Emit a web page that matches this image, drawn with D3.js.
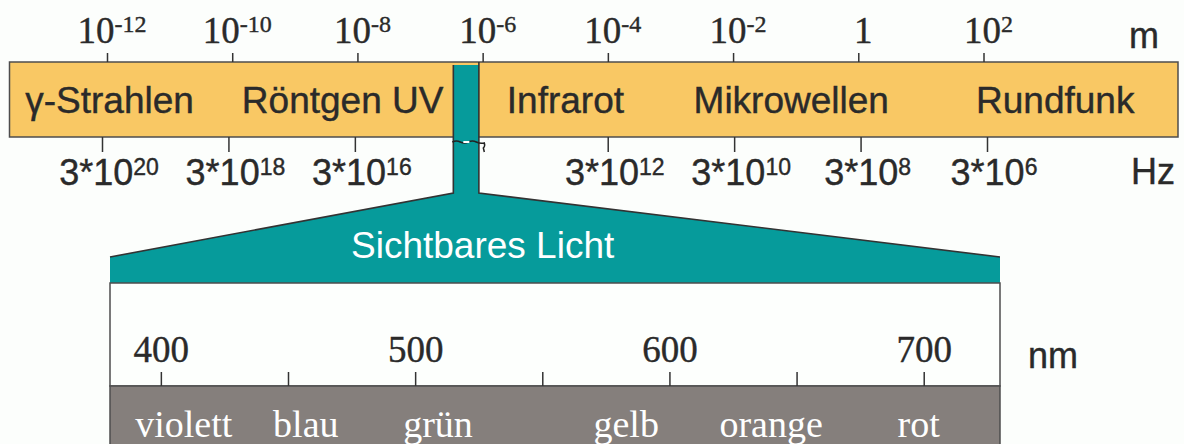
<!DOCTYPE html>
<html>
<head>
<meta charset="utf-8">
<script src="https://cdn.jsdelivr.net/npm/d3@7"></script>
<style>
  html, body { margin: 0; padding: 0; background: #fcfefc; }
  svg { display: block; }
  .sans { font-family: "Liberation Sans", Arial, sans-serif; }
  .serif { font-family: "Liberation Serif", "Times New Roman", serif; }
  .dark { stroke: #2a2a2a; stroke-width: 0.4px; }
</style>
</head>
<body>
<div id="chart"></div>
<script>
// wavelength axis (m), top of band
const waveTicks = [1e-12, 1e-10, 1e-8, 1e-6, 1e-4, 1e-2, 1, 1e2];
const waveExponents = ["-12", "-10", "-8", "-6", "-4", "-2", "", "2"];

// frequency axis (Hz), bottom of band
const freqTicks = [3e20, 3e18, 3e16, 3e12, 3e10, 3e8, 3e6];
const freqExponents = ["20", "18", "16", "12", "10", "8", "6"];

// regions, placed at a central wavelength (m)
const bandNames = ["γ-Strahlen", "Röntgen UV", "Infrarot", "Mikrowellen", "Rundfunk"];
const bandCenters = [1.1e-12, 5.8e-9, 2.1e-5, 0.085, 1400];

// visible light, in m and in nm
const visibleRange = [3.8e-7, 7.8e-7];
const nmDomain = [380, 730];
const nmTicks = [400, 450, 500, 550, 600, 650, 700];
const nmLabels = [400, 500, 600, 700];
const colorNames = ["violett", "blau", "grün", "gelb", "orange", "rot"];
const colorCenters = [409, 457, 509, 583, 640, 698];

const width = 1184, height = 444;
const ink = "#2a2a2a", edge = "#4d4d4d";
const orange = "#f9c864", teal = "#069b9b", grey = "#857f7c";

const band = { left: 9.5, right: 1178, top: 62, bottom: 137 };
const lens = { top: 193, slant: 257, box: 283, grey: 386 };

const svg = d3.select("#chart")
  .append("svg")
  .attr("width", width)
  .attr("height", height);

const xWave = d3.scaleLog().domain([1e-12, 1e2]).range([107, 983.5]);
const xFreq = d3.scaleLog().domain([3e20, 3e6]).range([102, 987]);
const xNm = d3.scaleLinear().domain(nmDomain).range([110, 1000]);

// orange band
svg.append("rect")
  .attr("x", band.left).attr("y", band.top)
  .attr("width", band.right - band.left).attr("height", band.bottom - band.top)
  .attr("fill", orange).attr("stroke", edge).attr("stroke-width", 1.5);

// teal stem + funnel to the visible range
const stemL = xWave(visibleRange[0]) - 3, stemR = xWave(visibleRange[1]) + 3;
const boxL = xNm(nmDomain[0]), boxR = xNm(nmDomain[1]);

svg.append("path")
  .attr("d", `M${stemL},${band.top + 3} L${stemR},${band.top + 3} L${stemR},${lens.top}
    L${boxR},${lens.slant} L${boxR},${lens.box} L${boxL},${lens.box} L${boxL},${lens.slant}
    L${stemL},${lens.top} Z`)
  .attr("fill", teal).attr("stroke", "none");

svg.append("path")
  .attr("d", `M${stemL},${band.top + 3} L${stemL},${lens.top} L${boxL},${lens.slant}
    M${stemR},${band.top} L${stemR},${lens.top} L${boxR},${lens.slant}`)
  .attr("fill", "none").attr("stroke", "#333").attr("stroke-width", 1.6);

// break mark on the stem
svg.append("path")
  .attr("d", `M${stemL - 1},${band.bottom + 5} q4,-2 8,0 t8,0 t8,0 t8,1 q1,3 -1,5 l1,4`)
  .attr("fill", "none").attr("stroke", "#222").attr("stroke-width", 1.5);
svg.append("rect")
  .attr("x", stemL + 10).attr("y", band.bottom + 4).attr("width", 6).attr("height", 2)
  .attr("fill", "#fff");

// white scale box and grey colour bar
svg.append("rect")
  .attr("x", boxL).attr("y", lens.box)
  .attr("width", boxR - boxL).attr("height", lens.grey - lens.box)
  .attr("fill", "#fdfffd").attr("stroke", edge).attr("stroke-width", 1.5);
svg.append("rect")
  .attr("x", boxL).attr("y", lens.grey)
  .attr("width", boxR - boxL).attr("height", height - lens.grey + 10)
  .attr("fill", grey).attr("stroke", edge).attr("stroke-width", 1.5);

// axes
function styleAxis(g) {
  g.select(".domain").remove();
  g.selectAll(".tick line").attr("stroke", "#333").attr("stroke-width", 1.5);
}

svg.append("g")
  .attr("transform", `translate(0,${band.top})`)
  .call(d3.axisTop(xWave).tickValues(waveTicks).tickSize(9).tickFormat(""))
  .call(styleAxis);

svg.append("g")
  .attr("transform", `translate(0,${band.bottom})`)
  .call(d3.axisBottom(xFreq).tickValues(freqTicks).tickSize(-15).tickFormat(""))
  .call(g => g.selectAll(".tick line").attr("y2", 15))
  .call(styleAxis);

svg.append("g")
  .attr("transform", `translate(0,${lens.grey})`)
  .call(d3.axisTop(xNm).tickValues(nmTicks).tickSize(14)
    .tickFormat(d => nmLabels.includes(d) ? d : "").tickPadding(10))
  .call(styleAxis)
  .call(g => g.selectAll(".tick text")
    .attr("class", "serif dark").attr("font-family", null)
    .attr("font-size", 37).attr("fill", ink).attr("dy", 0));

// wavelength labels 10^n
const waveText = svg.append("g").selectAll("text")
  .data(waveTicks)
  .join("text")
  .attr("class", "serif dark")
  .attr("x", d => xWave(d) + 5)
  .attr("y", 43)
  .attr("text-anchor", "middle")
  .attr("fill", ink);
waveText.append("tspan")
  .attr("font-size", 37)
  .text((d, i) => waveExponents[i] === "" ? "1" : "10");
waveText.append("tspan")
  .attr("font-size", 24)
  .attr("dy", -11)
  .text((d, i) => waveExponents[i]);

// frequency labels 3*10^n
const freqText = svg.append("g").selectAll("text")
  .data(freqTicks)
  .join("text")
  .attr("class", "sans dark")
  .attr("x", d => xFreq(d) + 7)
  .attr("y", 185)
  .attr("text-anchor", "middle")
  .attr("fill", ink);
freqText.append("tspan")
  .attr("font-size", 36)
  .text("3*10");
freqText.append("tspan")
  .attr("font-size", 23)
  .attr("dy", -10)
  .text((d, i) => freqExponents[i]);

// unit labels
svg.append("text").attr("class", "sans dark")
  .attr("x", 1129).attr("y", 48).attr("font-size", 36).attr("fill", ink).text("m");
svg.append("text").attr("class", "sans dark")
  .attr("x", 1131).attr("y", 184).attr("font-size", 36).attr("fill", ink).text("Hz");
svg.append("text").attr("class", "sans dark")
  .attr("x", 1028).attr("y", 368).attr("font-size", 36).attr("fill", ink).text("nm");

// region names in the band
svg.append("g").selectAll("text")
  .data(bandNames)
  .join("text")
  .attr("class", "sans dark")
  .attr("x", (d, i) => xWave(bandCenters[i]))
  .attr("y", 113)
  .attr("text-anchor", "middle")
  .attr("font-size", 37)
  .attr("fill", ink)
  .text(d => d);

svg.append("text")
  .attr("class", "sans")
  .attr("x", xWave(1e-6))
  .attr("y", 258)
  .attr("text-anchor", "middle")
  .attr("font-size", 37)
  .attr("fill", "#ffffff")
  .text("Sichtbares Licht");

// colour names in the grey bar
svg.append("g").selectAll("text")
  .data(colorNames)
  .join("text")
  .attr("class", "serif")
  .attr("x", (d, i) => xNm(colorCenters[i]))
  .attr("y", 437)
  .attr("text-anchor", "middle")
  .attr("font-size", 38)
  .attr("fill", "#ffffff")
  .text(d => d);
</script>
</body>
</html>
